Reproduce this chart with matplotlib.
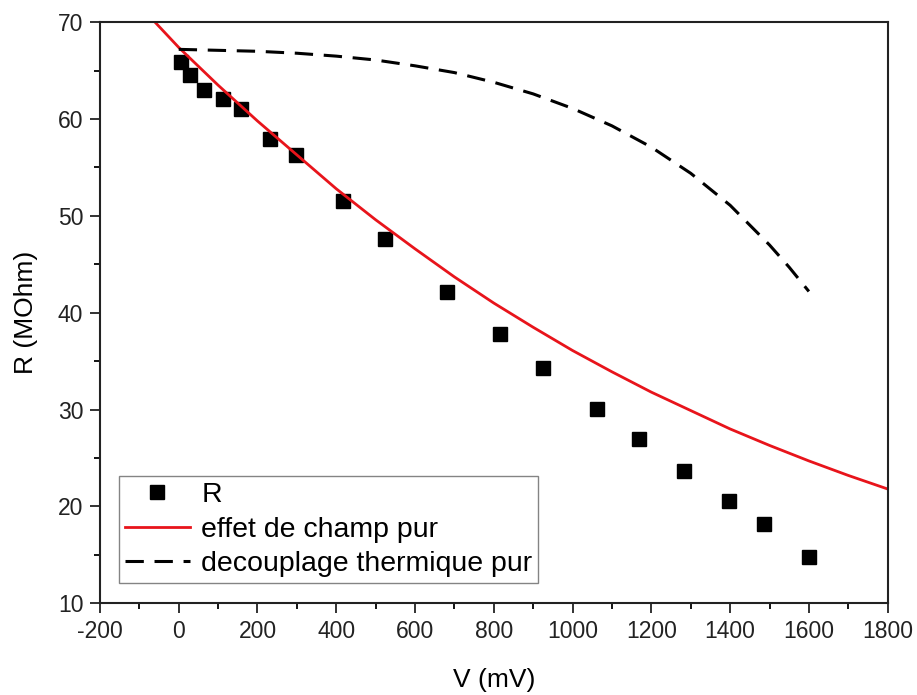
import numpy as np
import matplotlib
matplotlib.use("Agg")
import matplotlib.pyplot as plt
from matplotlib.ticker import MultipleLocator

plt.rcParams['font.family'] = ['Liberation Sans', 'DejaVu Sans']
plt.rcParams['axes.unicode_minus'] = False

# measured points
v_data = [5, 28, 63, 112, 157, 231, 297, 416, 525, 680, 817, 926, 1061, 1168, 1284, 1396, 1485, 1601]
r_data = [65.9, 64.6, 63.0, 62.1, 61.0, 57.9, 56.3, 51.5, 47.6, 42.1, 37.8, 34.3, 30.1, 27.0, 23.7, 20.6, 18.2, 14.8]

# pure field effect curve
v_champ = [-60, 0, 100, 200, 300, 400, 500, 600, 700, 800, 900, 1000, 1100, 1200, 1300, 1400, 1500, 1600, 1700, 1800]
r_champ = [70.0, 67.4, 63.5, 59.8, 56.3, 52.8, 49.6, 46.6, 43.7, 41.0, 38.5, 36.1, 33.9, 31.8, 29.9, 28.0, 26.3, 24.7, 23.2, 21.8]

# pure thermal decoupling curve
v_therm = [0, 100, 200, 300, 400, 500, 600, 700, 800, 900, 1000, 1100, 1200, 1300, 1400, 1500, 1550, 1600]
r_therm = [67.2, 67.1, 67.0, 66.8, 66.5, 66.1, 65.5, 64.8, 63.8, 62.6, 61.1, 59.3, 57.1, 54.4, 51.1, 47.0, 44.7, 42.2]

fig = plt.figure(figsize=(9.17, 6.95), dpi=100)
ax = fig.add_axes([0.109, 0.132, 0.859, 0.836])

ax.plot(v_data, r_data, 's', color='black', markersize=10, label='R')
ax.plot(v_champ, r_champ, '-', color='#e8141b', lw=2, label='effet de champ pur')
ax.plot(v_therm, r_therm, '--', color='black', lw=2.2, dashes=(6, 3.5),
        label='decouplage thermique pur')

ax.set_xlim(-200, 1800)
ax.set_ylim(10, 70)
ax.xaxis.set_major_locator(MultipleLocator(200))
ax.xaxis.set_minor_locator(MultipleLocator(100))
ax.yaxis.set_major_locator(MultipleLocator(10))
ax.yaxis.set_minor_locator(MultipleLocator(5))
ax.tick_params(which='major', direction='out', length=7, width=1.3,
               labelsize=16.5, pad=5, colors='#222222')
ax.tick_params(which='minor', direction='out', length=4, width=1.3)
for s in ax.spines.values():
    s.set_linewidth(1.5)
    s.set_color('#222222')

ax.set_xlabel('V (mV)', fontsize=19, labelpad=18)
ax.set_ylabel('R (MOhm)', fontsize=19, labelpad=14)

leg = ax.legend(loc='lower left', bbox_to_anchor=(0.024, 0.035), fontsize=20.5,
                frameon=True, fancybox=False, handlelength=2.3,
                borderpad=0.2, labelspacing=0.3, handletextpad=0.4,
                borderaxespad=0)
leg.get_frame().set_edgecolor('#666666')
leg.get_frame().set_linewidth(1)

fig.savefig('out.png', dpi=100)
